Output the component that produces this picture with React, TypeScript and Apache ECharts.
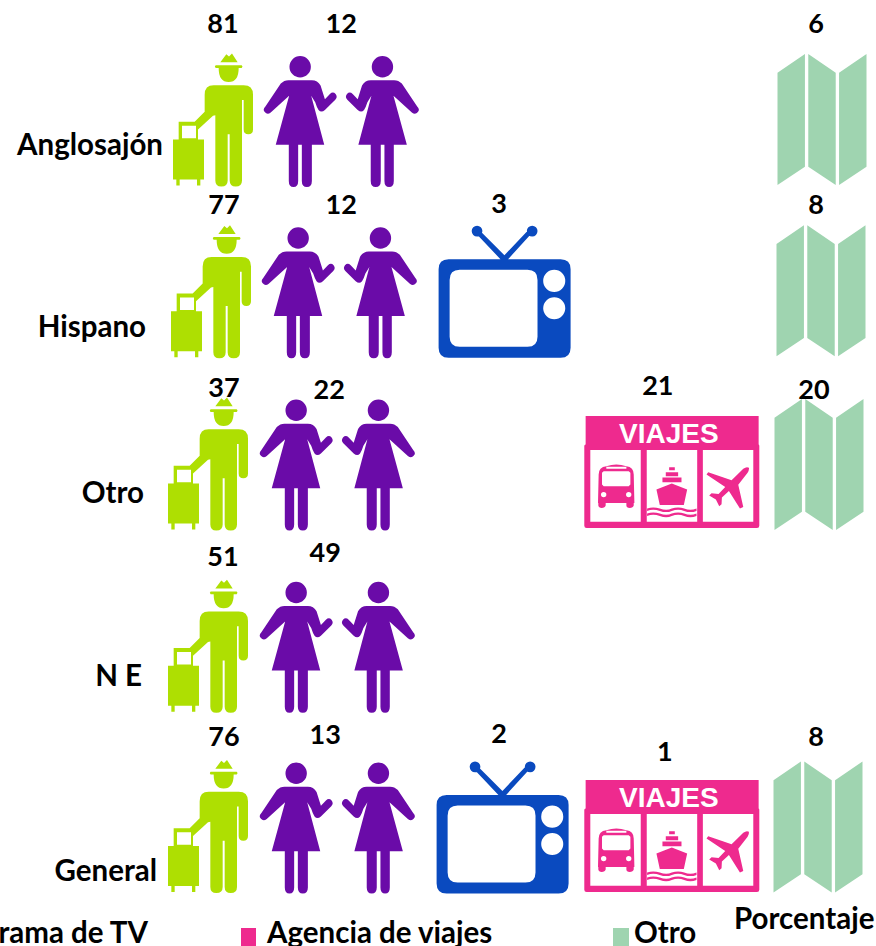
import React, { useEffect, useRef } from "react";
import * as echarts from "echarts";

const rows = ["Anglosajón", "Hispano", "Otro", "N E", "General"];
const columns = ["Viajero", "Mujer A", "Mujer B", "Programa de TV", "Agencia de viajes", "Otro"];

const travelerValues = [81, 77, 37, 51, 76];
const womenValues = [12, 12, 22, 49, 13];
const tvValues = [null, 3, null, null, 2];
const agencyValues = [null, null, 21, null, 1];
const otherValues = [6, 8, 20, null, 8];

const legendLabels = ["Programa de TV", "Agencia de viajes", "Otro"];
const axisNote = "Porcentaje";
const signText = "VIAJES";

const GREEN = "#AEDF02";
const PURPLE = "#6A0BA8";
const BLUE = "#0A4ABF";
const PINK = "#EE2A8E";
const MINT = "#9FD4B0";
const FONT = "Lato";
const WORD_SIZE = 29.5;
const DIGIT_SIZE = 27;
const LABEL_LIFT = 1.5;

// ---- icon outlines ----
const circle = (cx: number, cy: number, r: number, sweep = 1) =>
  `M${cx - r} ${cy} A${r} ${r} 0 1 ${sweep} ${cx + r} ${cy} A${r} ${r} 0 1 ${sweep} ${cx - r} ${cy} Z `;

const womanBody =
  "M385 240 L455 240 Q472 240 481 256 L494 297 L509 281 Q518 273 526 281 Q533 290 525 298 L494 329 Q483 338 475 329 Q470 322 465 306 L453 286 L492 432 L455 432 L455 540 Q455 558 440 558 Q425 558 425 540 L425 432 L414 432 L414 540 Q414 558 400 558 Q386 558 386 540 L386 432 L347 432 L387 286 L332 336 Q322 344 314 335 Q307 327 316 318 L362 250 Q372 240 385 240 Z ";
const mirrored = (d: string) =>
  d.replace(/(-?\d+(?:\.\d+)?) (-?\d+(?:\.\d+)?)/g, (_, x, y) => `${840 - Number(x)} ${y}`);
const womanA = "path://" + womanBody + circle(420, 200, 32);
const womanB = "path://" + mirrored(womanBody) + circle(420, 200, 32);

const traveler =
  "path://M160 256 L250 256 Q278 256 278 284 L278 388 Q278 402 264 402 Q250 402 250 388 L250 300 L245 300 L245 540 Q245 558 226 558 Q208 558 208 540 L208 402 L202 402 L202 540 Q202 558 183 558 Q165 558 165 540 L165 345 L158 347 L113 388 L113 418 L131 418 L131 537 L120 537 L120 555 L110 555 L110 537 L58 537 L58 555 L48 555 L48 537 L38 537 L38 418 L55 418 L55 365 L103 365 L133 335 L133 284 Q133 256 160 256 Z " +
  "M65 377 L65 414 L107 414 L107 377 Z " +
  "M180 187 L198 163 L206 170 L215 161 L232 187 Z " +
  "M166 196 L244 196 Q249 200 244 204 L166 204 Q161 200 166 196 Z " +
  "M175 204 L235 204 Q235 246 205 246 Q175 246 175 204 Z";

const tv =
  "path://M57 150 L392 150 Q422 150 422 180 L422 415 Q422 445 392 445 L57 445 Q27 445 27 415 L27 180 Q27 150 57 150 Z " +
  "M90 182 Q60 182 60 212 L60 382 Q60 412 90 412 L293 412 Q323 412 323 382 L323 212 Q323 182 293 182 Z " +
  circle(373, 215, 33, 0) +
  circle(373, 297, 33, 0) +
  circle(142, 66, 16) +
  circle(307, 66, 16) +
  "M137 71 L147 61 L224 138 L297 61 L307 71 L235 150 L212 150 Z";

const map =
  "path://M1036 103 L1118 47 L1118 385 L1036 440 Z M1128 47 L1210 103 L1210 440 L1128 385 Z M1220 103 L1302 47 L1302 385 L1220 440 Z";

const agency =
  "path://M468 620 L986 620 L986 705 Q988 705 988 710 L988 948 Q988 955 981 955 L471 955 Q464 955 464 948 L464 710 Q464 705 468 705 Z " +
  "M482 722 L482 936 L633 936 L633 722 Z M651 722 L651 936 L802 936 L802 722 Z M819 722 L819 936 L970 936 L970 722 Z " +
  // bus
  "M530 770 Q560 760 590 770 Q612 772 612 795 L614 880 L612 880 L612 888 Q610 895 600 895 Q590 895 590 888 L590 880 L528 880 L528 888 Q526 895 516 895 Q507 895 506 888 L506 880 L505 880 L507 795 Q507 772 530 770 Z " +
  "M530 772 L530 778 L590 778 L590 772 Z " +
  "M522 785 L517 790 L517 825 L522 830 L597 830 L602 825 L602 790 L597 785 Z " +
  circle(522, 855, 8, 0) +
  circle(597, 855, 8, 0) +
  // ship
  "M718 773 L735 773 L735 782 L718 782 Z M708 788 L745 788 L745 800 L708 800 Z M698 804 L755 804 L755 818 L698 818 Z " +
  "M680 840 L726 822 L772 840 L762 886 L690 886 Z " +
  "M652 897 Q670 890 690 897 Q710 904 726 897 Q745 890 763 897 Q782 904 800 897 L800 904 Q782 911 763 904 Q745 897 726 904 Q710 911 690 904 Q670 897 652 904 Z " +
  "M652 912 Q670 905 690 912 Q710 919 726 912 Q745 905 763 912 Q782 919 800 912 L800 919 Q782 926 763 919 Q745 912 726 919 Q710 926 690 919 Q670 912 652 919 Z " +
  // plane
  "M957 775 Q950 770 940 778 L905 812 L835 788 L830 795 L886 832 L866 853 L845 851 L838 858 L858 870 L868 890 L875 884 L876 864 L897 844 L930 897 L940 892 L925 826 L953 790 Q958 782 957 775 Z";

// ---- layout nudges (px) relative to the evenly spaced category bands ----
const GRID_LEFT = 208;
const GRID_RIGHT = 57;
const GRID_TOP = 120;
const GRID_BOTTOM = 119;

const travelerDx = [5, 3, 0, 0, 0];
const travelerDy = [0, -5, -9.5, -4, -0.5];
const womanADx = [-30, -32, -34, -34, -34];
const womanBDx = [-70, -72, -74, -74, -74];
const womanDy = [1.5, -4, -8.5, -3, 1];
const tvDx = [0, -70, 0, 0, -72];
const tvDy = [0, -5, 0, 0, 0.5];
const agencyDx = [0, 0, -25, 0, -25];
const agencyDy = [0, 0, -1.5, 0, 9];
const otherDx = [3, 2, 0, 0, -1];
const otherDy = [-0.5, -6, -9, 0, 0];

const travelerLabel = [[15, -96], [16, -91], [16, -85.5], [15, -93], [16, -90]];
const womenLabel = [[11, -96], [11, -91], [-1, -83.5], [-5, -97], [-5, -92]];
const tvLabel = [[0, 0], [-75.6, -92], [0, 0], [0, 0], [-75.6, -93]];
const agencyLabel = [[0, 0], [0, 0], [-39, -87.5], [0, 0], [-32, -75]];
const otherLabel = [[-3, -96], [-3, -91], [-5, -83.5], [0, 0], [-3, -90]];
const rowLabelOffset = [[-45, 24], [-62, 30], [-64, 18.5], [-66, 25], [-51, 43]];

function iconSeries(
  name: string,
  col: number,
  values: (number | null)[],
  symbol: string,
  size: number[],
  color: string,
  dx: number[],
  dy: number[],
  extraLabel?: any
) {
  return {
    type: "scatter",
    name,
    clip: false,
    silent: true,
    symbol,
    symbolSize: size,
    itemStyle: { color, opacity: 1 },
    label: extraLabel || { show: false },
    data: values
      .map((v, row) =>
        v === null
          ? null
          : { value: [col, row, v], symbolOffset: [dx[row], dy[row]] }
      )
      .filter(Boolean),
  };
}

function valueSeries(col: number, values: (number | null)[], offsets: number[][]) {
  return {
    type: "scatter",
    clip: false,
    silent: true,
    symbol: "circle",
    symbolSize: 1,
    z: 5,
    itemStyle: { color: "rgba(0,0,0,0)", opacity: 1 },
    data: values
      .map((v, row) =>
        v === null
          ? null
          : {
              value: [col, row, v],
              label: {
                show: true,
                position: "top",
                distance: 0,
                align: "center",
                verticalAlign: "middle",
                offset: [offsets[row][0], offsets[row][1] - LABEL_LIFT],
                formatter: String(v),
                color: "#000000",
                fontFamily: FONT,
                fontWeight: "bold",
                fontSize: DIGIT_SIZE,
              },
            }
      )
      .filter(Boolean),
  };
}

export default function App() {
  const ref = useRef<HTMLDivElement>(null);
  useEffect(() => {
    document.body.style.margin = "0";
    const chart = echarts.init(ref.current!, undefined, { renderer: "svg" });
    const textStyle = (x: number, y: number, text: string, textAlign: string) => ({
      type: "text",
      x,
      y,
      style: { text, fontFamily: FONT, fontWeight: "bold", fontSize: WORD_SIZE, fill: "#000", textAlign, textVerticalAlign: "middle" },
    });
    chart.setOption({
      animation: false,
      backgroundColor: "#fff",
      grid: { left: GRID_LEFT, right: GRID_RIGHT, top: GRID_TOP, bottom: GRID_BOTTOM },
      xAxis: { type: "category", data: columns, boundaryGap: false, show: false },
      yAxis: { type: "category", data: rows, boundaryGap: false, inverse: true, show: false },
      series: [
        iconSeries("Viajero", 0, travelerValues, traveler, [80, 133], GREEN, travelerDx, travelerDy),
        iconSeries("Mujer A", 1, womenValues, womanA, [73, 131], PURPLE, womanADx, womanDy),
        iconSeries("Mujer B", 2, womenValues, womanB, [73, 131], PURPLE, womanBDx, womanDy),
        iconSeries("Programa de TV", 3, tvValues, tv, [132, 132], BLUE, tvDx, tvDy),
        iconSeries("Agencia de viajes", 4, agencyValues, agency, [175, 112], PINK, agencyDx, agencyDy, {
          show: true,
          position: "top",
          distance: 0,
          verticalAlign: "middle",
          formatter: signText,
          offset: [-3, 17],
          color: "#fff",
          fontFamily: "Liberation Sans",
          fontWeight: "bold",
          fontSize: 28,
        }),
        iconSeries("Otro", 5, otherValues, map, [89, 131], MINT, otherDx, otherDy),
        valueSeries(0, travelerValues, travelerLabel),
        valueSeries(1, womenValues, womenLabel),
        valueSeries(3, tvValues, tvLabel),
        valueSeries(4, agencyValues, agencyLabel),
        valueSeries(5, otherValues, otherLabel),
        {
          type: "scatter",
          clip: false,
          silent: true,
          symbolSize: 1,
          itemStyle: { color: "rgba(0,0,0,0)", opacity: 1 },
          data: rows.map((name, row) => ({
            value: [0, row],
            label: {
              show: true,
              position: "top",
              distance: 0,
              align: "right",
              verticalAlign: "middle",
              offset: [rowLabelOffset[row][0], rowLabelOffset[row][1] - 0.5],
              formatter: name,
              color: "#000000",
              fontFamily: FONT,
              fontWeight: "bold",
              fontSize: WORD_SIZE,
            },
          })),
        },
      ],
      graphic: [
        textStyle(148, 931, legendLabels[0], "right"),
        { type: "rect", shape: { x: 241, y: 928, width: 15, height: 18 }, style: { fill: PINK } },
        textStyle(267, 931, legendLabels[1], "left"),
        { type: "rect", shape: { x: 613, y: 928, width: 16, height: 18 }, style: { fill: MINT } },
        textStyle(634, 931, legendLabels[2], "left"),
        textStyle(734, 917, axisNote, "left"),
      ],
    });
    return () => chart.dispose();
  }, []);
  return <div ref={ref} style={{ width: 876, height: 946, overflow: "hidden" }} />;
}
